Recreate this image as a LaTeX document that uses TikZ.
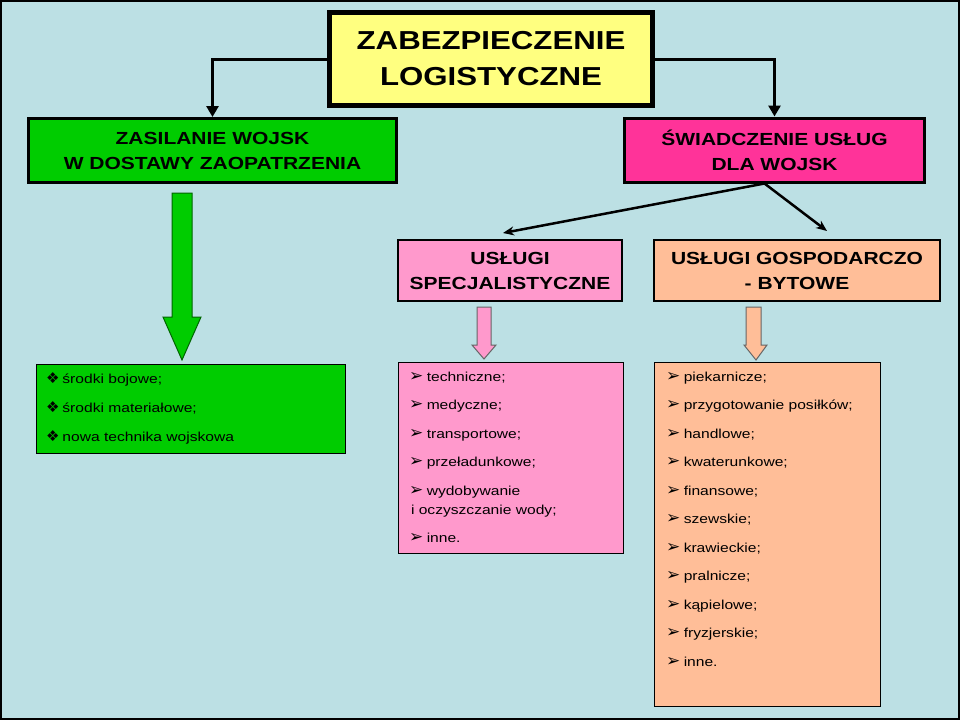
\documentclass[tikz,border=0pt]{standalone}
\usepackage{fontspec}
\setmainfont{Liberation Sans}[FakeStretch=1.2]
\newfontfamily\symfont{DejaVu Sans}
\usetikzlibrary{arrows.meta,positioning}

\definecolor{tlo}{RGB}{188,224,228}
\definecolor{zolty}{RGB}{255,255,128}
\definecolor{zielony}{RGB}{0,204,0}
\definecolor{malina}{RGB}{255,51,153}
\definecolor{roz}{RGB}{255,153,204}
\definecolor{brzoskwinia}{RGB}{255,190,152}

\newcommand{\strz}{{\symfont\fontsize{17}{19}\selectfont ➢}\hspace{3.5pt}}
\newcommand{\romb}{{\symfont\fontsize{15}{19}\selectfont ❖}\hspace{3pt}}

\begin{document}
\begin{tikzpicture}[x=1pt,y=-1pt,
			every node/.style={inner sep=0pt},
			tytul/.style={draw, line width=5pt, fill=zolty, minimum width=323, minimum height=93,
				align=center, font=\fontsize{26}{36}\selectfont\bfseries},
			naglowek/.style={draw, line width=3pt, minimum height=64, align=center,
				font=\fontsize{17.5}{25}\selectfont\bfseries},
			podnaglowek/.style={draw, line width=2pt, minimum height=61, align=center,
				font=\fontsize{17.5}{25}\selectfont\bfseries},
			lista/.style={draw, line width=1pt, anchor=north west, inner ysep=10pt, align=left,
				font=\fontsize{13}{19}\selectfont},
			strzalka/.style={-{Triangle[length=11pt,width=12pt]}, line width=3pt},
			cienka/.style={-{Stealth[length=11pt,width=9pt]}, line width=2.5pt},
			blok/.style={line width=1pt, line join=miter}
			]
			
			% Background and frame
			\fill[tlo] (0,0) rectangle (960,720);
			\draw[line width=2pt] (1,1) rectangle (959,719);
			
			% Nodes
			\node[tytul] (zab) at (491,59) {ZABEZPIECZENIE\\LOGISTYCZNE};
			\node[naglowek, fill=zielony, minimum width=368] (zas) at (212.5,150.5) {ZASILANIE WOJSK\\W DOSTAWY ZAOPATRZENIA};
			\node[naglowek, fill=malina, minimum width=300] (swi) at (774.5,150) {ŚWIADCZENIE USŁUG\\DLA WOJSK};
			\node[podnaglowek, fill=roz, minimum width=224] (spec) at (510,270.5) {USŁUGI\\SPECJALISTYCZNE};
			\node[podnaglowek, fill=brzoskwinia, minimum width=286] (gos) at (797,270.5) {USŁUGI GOSPODARCZO\\- BYTOWE};
			
			% Lists
			\node[lista, fill=zielony, inner xsep=10pt, inner ysep=9pt, text width=289] (srodki) at (35.5,363.5)
				{\romb środki bojowe;\\[10pt]\romb środki materiałowe;\\[10pt]\romb nowa technika wojskowa};
			\node[lista, fill=roz, inner xsep=11pt, text width=203] (uslspec) at (397.5,361.5)
				{\strz techniczne;\\[9.5pt]\strz medyczne;\\[9.5pt]\strz transportowe;\\[9.5pt]\strz przeładunkowe;\\[9.5pt]\strz wydobywanie\\\hspace{2pt}i oczyszczanie wody;\\[9.5pt]\strz inne.};
			\node[lista, fill=brzoskwinia, inner xsep=12pt, text width=202] (uslgos) at (653.5,361.5)
				{\strz piekarnicze;\\[9.5pt]\strz przygotowanie posiłków;\\[9.5pt]\strz handlowe;\\[9.5pt]\strz kwaterunkowe;\\[9.5pt]\strz finansowe;\\[9.5pt]\strz szewskie;\\[9.5pt]\strz krawieckie;\\[9.5pt]\strz pralnicze;\\[9.5pt]\strz kąpielowe;\\[9.5pt]\strz fryzjerskie;\\[9.5pt]\strz inne.\rule[-30pt]{0pt}{1pt}};
			
			% From the title
			\draw[strzalka] (zab.west) -| (zas.north);
			\draw[strzalka] (zab.east) -| (swi.north);
			
			% From services
			\draw[cienka] ([xshift=-10pt]swi.south) -- ([xshift=-7pt,yshift=6pt]spec.north);
			\draw[cienka] ([xshift=-10pt]swi.south) -- ([xshift=30pt,yshift=8pt]gos.north);
			
			% Block arrows down to the lists
			\draw[blok, fill=zielony, draw=green!40!black] (172,193) -- (192,193) -- (192,317) -- (201,317) -- (182,360) -- (163,317) -- (172,317) -- cycle;
			\draw[blok, fill=roz, draw=black!60] (477,307) -- (491,307) -- (491,345) -- (496,345) -- (484,359) -- (472,345) -- (477,345) -- cycle;
			\draw[blok, fill=brzoskwinia, draw=black!60] (746,307) -- (761,307) -- (761,345) -- (767,345) -- (756,360) -- (744,345) -- (746,345) -- cycle;
		\end{tikzpicture}
\end{document}
